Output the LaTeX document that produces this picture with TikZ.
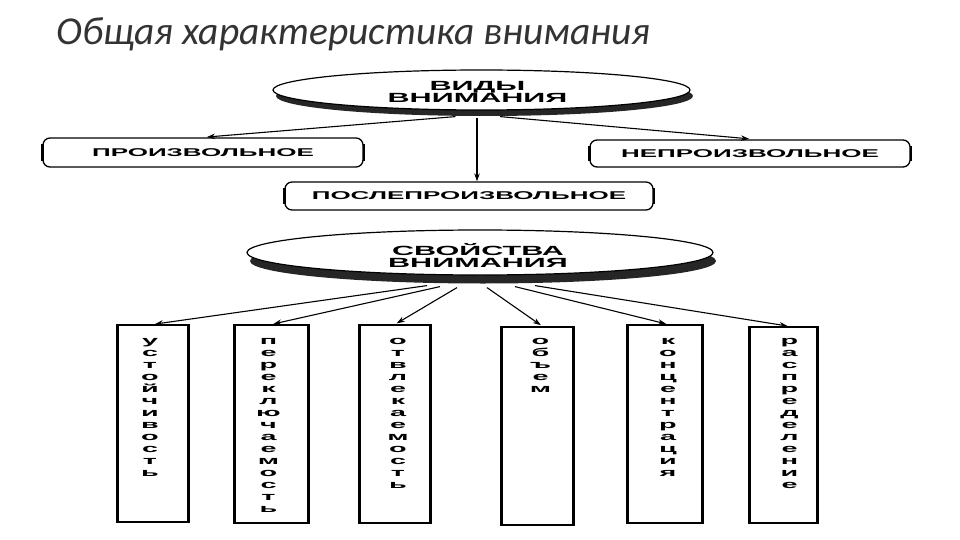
\documentclass[tikz,border=0pt]{standalone}
\usepackage{fontspec}
\usetikzlibrary{shapes.geometric,arrows.meta,calc}
\newfontfamily\titlefont{Carlito}
\newfontfamily\widefont[FakeStretch=2.3]{Liberation Sans}
\newfontfamily\vertfont[FakeStretch=2.5]{Liberation Sans}
\begin{document}
\begin{tikzpicture}[x=1pt,y=-1pt,
  arr/.style={line width=1.1pt,-{Stealth[length=8pt,width=5.5pt]}},
  ovalnode/.style={ellipse, draw, line width=1.2pt, fill=white, inner sep=0pt},
  ovaltext/.style={inner sep=0pt, align=center,
    font=\widefont\bfseries\fontsize{13.3}{12.5}\selectfont},
  kindbox/.style={draw, rounded corners=7pt, line width=1.3pt, inner sep=0pt,
    font=\widefont\bfseries\fontsize{11.3}{11}\selectfont},
  propbox/.style={draw, line width=1.3pt, inner sep=0pt},
  letters/.style={align=center, inner sep=0pt, anchor=north,
    font=\vertfont\bfseries\fontsize{11.5}{12}\selectfont},
  thickside/.style={line width=2.3pt},
  shadowfill/.style={fill=black!85}
]
\fill[white] (0,0) rectangle (960,540);
\useasboundingbox (0,0) rectangle (960,540);

% title
\node[anchor=base west, inner sep=0pt, text=black!80,
  font=\titlefont\itshape\fontsize{39.5}{44}\selectfont] (title) at (56,45)
  {Общая характеристика внимания};

% --- first oval
\coordinate (c1) at (481.5,90);
\fill[shadowfill] ($(c1)+(3,6)$) ellipse [x radius=208.5pt, y radius=20pt];
\node[ovalnode, minimum width=417pt, minimum height=40pt] (e1) at (c1) {};
\node[ovaltext] (e1t) at ($(c1)+(-4,2)$) {ВИДЫ\\ВНИМАНИЯ};

% kinds
\node[kindbox, minimum width=320pt, minimum height=29pt] (bl) at (203,152.5) {ПРОИЗВОЛЬНОЕ};
\node[kindbox, minimum width=320pt, minimum height=27pt] (br) at (750,153.5) {НЕПРОИЗВОЛЬНОЕ};
\node[kindbox, minimum width=368pt, minimum height=28pt] (bm) at (469,196) {ПОСЛЕПРОИЗВОЛЬНОЕ};
\foreach \b in {bl,br,bm}{
  \draw[thickside] ($(\b.north west)+(0,7)$) -- ($(\b.south west)+(0,-7)$);
  \draw[thickside] ($(\b.north east)+(0,7)$) -- ($(\b.south east)+(0,-7)$);
}

\coordinate (s0) at ($(e1.south)+(-4.5,7)$);
\coordinate (sl) at ($(e1.south)+(-26,6)$);
\coordinate (sr) at ($(e1.south)+(18.5,6)$);
\draw[arr] (s0) -- (s0 |- bm.north);
\draw[arr, shorten >=4pt] (sl) -- (bl.north);
\draw[arr, shorten >=6pt] (sr) -- ($(br.north)+(5,0)$);

% --- second oval
\coordinate (c2) at (480,252.5);
\fill[shadowfill] ($(c2)+(3,8.5)$) ellipse [x radius=233pt, y radius=22.5pt];
\node[ovalnode, minimum width=466pt, minimum height=45pt] (e2) at (c2) {};
\node[ovaltext] (e2t) at ($(c2)+(-2,3)$) {СВОЙСТВА\\ВНИМАНИЯ};

% properties
\node[propbox, minimum width=70pt, minimum height=197pt] (b1) at (153,423.5) {};
\node[propbox, minimum width=73pt, minimum height=198pt] (b2) at (271.5,424) {};
\node[propbox, minimum width=70pt, minimum height=198pt] (b3) at (395,424) {};
\node[propbox, minimum width=71pt, minimum height=198pt] (b4) at (537.5,426) {};
\node[propbox, minimum width=74pt, minimum height=198pt] (b5) at (665,424) {};
\node[propbox, minimum width=67pt, minimum height=196pt] (b6) at (783.5,425) {};
\foreach \b in {b1,b2,b3,b4,b5,b6}{
  \draw[thickside] (\b.north west) -- (\b.south west);
  \draw[thickside] (\b.north east) -- (\b.south east);
}

\node[letters] (t1) at ($(b1.north)+(-3,14)$) {у\\с\\т\\о\\й\\ч\\и\\в\\о\\с\\т\\ь};
\node[letters] (t2) at ($(b2.north)+(-3,14)$) {п\\е\\р\\е\\к\\л\\ю\\ч\\а\\е\\м\\о\\с\\т\\ь};
\node[letters] (t3) at ($(b3.north)+(3,14)$) {о\\т\\в\\л\\е\\к\\а\\е\\м\\о\\с\\т\\ь};
\node[letters] (t4) at ($(b4.north)+(3,12)$) {о\\б\\ъ\\е\\м};
\node[letters] (t5) at ($(b5.north)+(3,14)$) {к\\о\\н\\ц\\е\\н\\т\\р\\а\\ц\\и\\я};
\node[letters] (t6) at ($(b6.north)+(6,12)$) {р\\а\\с\\п\\р\\е\\д\\е\\л\\е\\н\\и\\е};

\coordinate (p1) at ($(e2.south)+(-53,10)$);
\coordinate (p2) at ($(e2.south)+(-40,11)$);
\coordinate (p3) at ($(e2.south)+(-23,12)$);
\coordinate (p4) at ($(e2.south)+(7,12)$);
\coordinate (p5) at ($(e2.south)+(35,11)$);
\coordinate (p6) at ($(e2.south)+(55,10)$);
\draw[arr, shorten >=2pt] (p1) -- (b1.north);
\draw[arr, shorten >=2pt] (p2) -- (b2.north);
\draw[arr, shorten >=2pt] (p3) -- (b3.north);
\draw[arr, shorten >=2pt] (p4) -- ($(b4.north)+(5,0)$);
\draw[arr, shorten >=2pt] (p5) -- ($(b5.north)+(3,0)$);
\draw[arr, shorten >=2pt] (p6) -- ($(b6.north)+(6,0)$);
\end{tikzpicture}
\end{document}
